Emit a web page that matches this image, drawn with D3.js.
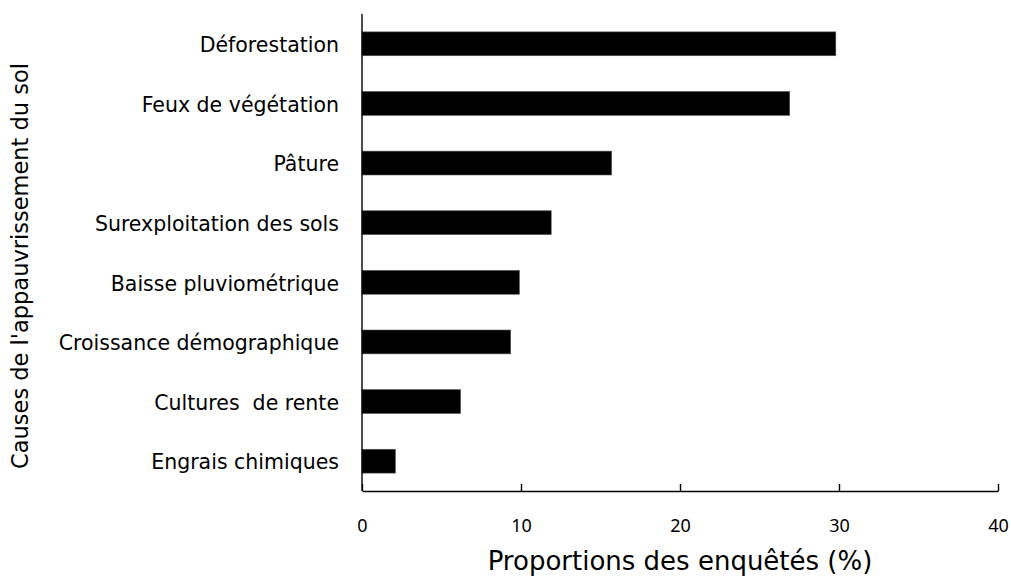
<!DOCTYPE html>
<html>
<head>
<meta charset="utf-8">
<script src="https://cdn.jsdelivr.net/npm/d3@7"></script>
<style>
    body { margin: 0; background: white; }
    svg { display: block; }
</style>
</head>
<body>
<svg id="chart"></svg>
<script>
// Causes de l'appauvrissement du sol (%)
var causes = ["Déforestation", "Feux de végétation", "Pâture", "Surexploitation des sols",
    "Baisse pluviométrique", "Croissance démographique", "Cultures  de rente", "Engrais chimiques"];
var proportions = [29.8, 26.9, 15.7, 11.9, 9.9, 9.35, 6.2, 2.1];
var xTicks = [0, 10, 20, 30, 40];

var dimensions = {
    width: 1011,
    height: 576,
    margin: {
        top: 14,
        bottom: 85,
        right: 13,
        left: 362
    }
}

var svg = d3.select("#chart")
    .attr("width", dimensions.width)
    .attr("height", dimensions.height);

var data = causes.map((c, i) => ({ cause: c, value: proportions[i] }));

var xScale = d3.scaleLinear()
    .domain([0, 40])
    .range([dimensions.margin.left, dimensions.width - dimensions.margin.right]);

var yScale = d3.scaleBand()
    .domain(causes)
    .range([dimensions.margin.top, dimensions.height - dimensions.margin.bottom])
    .paddingInner(0.6)
    .paddingOuter(0.3);

// bars
svg.selectAll(".bar")
    .data(data)
    .enter()
    .append("rect")
    .attr("class", "bar")
    .attr("x", xScale(0))
    .attr("y", d => yScale(d.cause))
    .attr("width", d => xScale(d.value) - xScale(0))
    .attr("height", yScale.bandwidth())
    .attr("fill", "black")
    .attr("stroke", "#555")
    .attr("stroke-width", 0.6);

// x-axis, ticks pointing up
var xAxis = svg.append("g")
    .attr("transform", `translate(0,${dimensions.height - dimensions.margin.bottom})`)
    .call(d3.axisBottom(xScale).tickValues(xTicks).tickSizeInner(-7).tickSizeOuter(0));

xAxis.select(".domain").attr("stroke", "black").attr("stroke-width", 1.4);
xAxis.selectAll(".tick line").attr("stroke", "black").attr("stroke-width", 1.4);
xAxis.selectAll(".tick text")
    .attr("y", 41)
    .attr("dy", 0)
    .style("font-family", "'Noto Sans', sans-serif")
    .style("font-size", "18px")
    .attr("fill", "black");

// y-axis: plain line, no ticks
svg.append("line")
    .attr("x1", xScale(0))
    .attr("x2", xScale(0))
    .attr("y1", dimensions.margin.top)
    .attr("y2", dimensions.height - dimensions.margin.bottom)
    .attr("stroke", "black")
    .attr("stroke-width", 1.4);

// category labels
svg.selectAll(".cat-label")
    .data(data)
    .enter()
    .append("text")
    .attr("class", "cat-label")
    .attr("x", xScale(0) - 23)
    .attr("y", d => yScale(d.cause) + yScale.bandwidth() / 2)
    .attr("dy", "0.4em")
    .attr("text-anchor", "end")
    .style("font-family", "'DejaVu Sans', sans-serif")
    .style("font-size", "20.5px")
    .style("white-space", "pre")
    .text(d => d.cause);

// axis titles
svg.append("text")
    .attr("text-anchor", "middle")
    .attr("x", (xScale(0) + xScale(40)) / 2)
    .attr("y", 570)
    .style("font-family", "'DejaVu Sans', sans-serif")
    .style("font-size", "26px")
    .text("Proportions des enquêtés (%)");

svg.append("text")
    .attr("text-anchor", "middle")
    .attr("transform", "translate(28,266) rotate(-90)")
    .style("font-family", "'DejaVu Sans', sans-serif")
    .style("font-size", "22.5px")
    .text("Causes de l'appauvrissement du sol");
</script>
</body>
</html>
